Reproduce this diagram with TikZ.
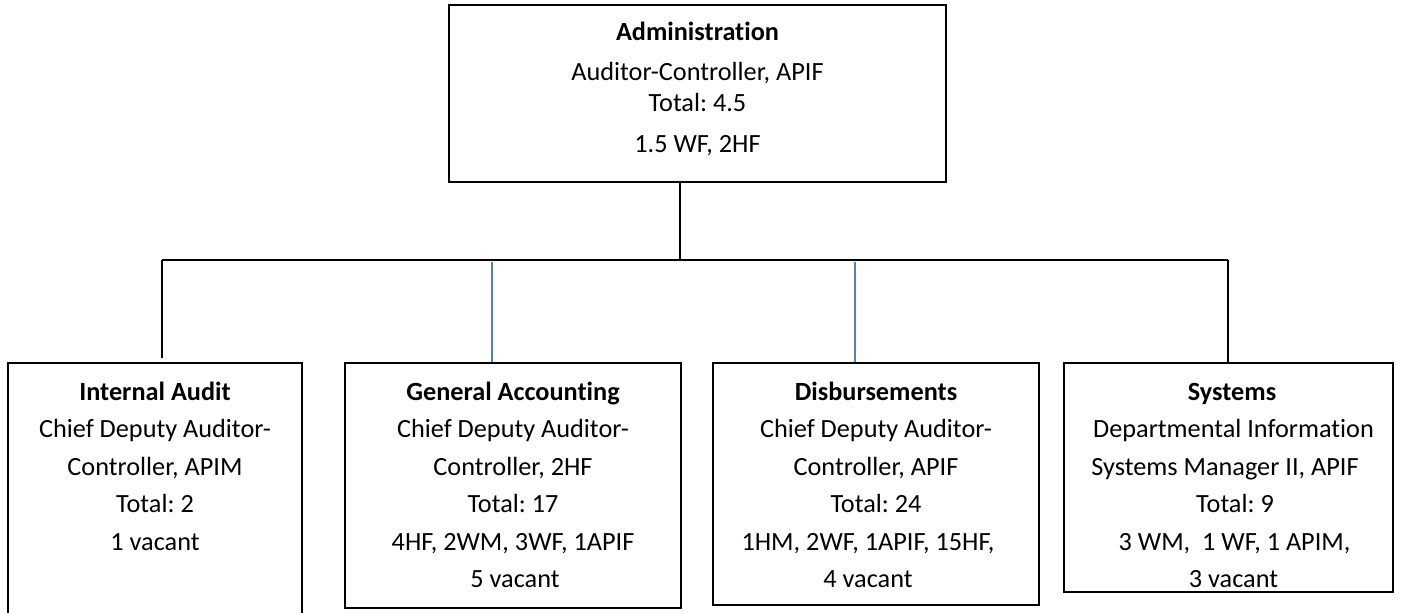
\documentclass[tikz,border=0pt]{standalone}
\usepackage{fontspec}
\setmainfont{Carlito}[Ligatures=NoCommon]
\frenchspacing
\definecolor{lnblue}{HTML}{4F81BD}
\begin{document}
\begin{tikzpicture}[x=0.75pt,y=-0.75pt,
  box/.style={draw=black,line width=1.5pt,minimum width=#1,inner sep=0pt},
  conn/.style={draw=black,line width=1.2pt},
  bconn/.style={draw=lnblue,line width=1pt},
  txt/.style={anchor=base,inner sep=0pt,font=\fontsize{19.7}{23}\selectfont},
  ttl/.style={txt,font=\fontsize{19.7}{23}\selectfont\bfseries}]
\useasboundingbox (0,0) rectangle (1408,612);
% boxes
\node[box=372.75pt,minimum height=132.75pt] (adm) at (697.5,93.5) {};
\node[box=220.5pt,minimum height=207.75pt] (ia) at (155,501.5) {};
\node[box=252pt,minimum height=183.75pt] (ga) at (513,485.5) {};
\node[box=244.5pt,minimum height=181.5pt] (db) at (876,484) {};
\node[box=246.75pt,minimum height=171.75pt] (sy) at (1228.5,477.5) {};
% admin text
\node[ttl] (a1) at (697.5,40) {Administration};
\node[txt] (a2) at (697.5,80) {Auditor-Controller, APIF};
\node[txt] (a3) at (697.5,111) {Total: 4.5};
\node[txt] (a4) at (697.5,152) {1.5 WF, 2HF};
% internal audit
\node[ttl] (i1) at (155,400) {Internal Audit};
\node[txt] (i2) at (155,437.5) {Chief Deputy Auditor-};
\node[txt] (i3) at (155,475) {Controller, APIM};
\node[txt] (i4) at (155,512.5) {Total: 2};
\node[txt] (i5) at (155,550) {1 vacant};
% general accounting
\node[ttl] (g1) at (513,400) {General Accounting};
\node[txt] (g2) at (513,437.5) {Chief Deputy Auditor-};
\node[txt] (g3) at (513,475) {Controller, 2HF};
\node[txt] (g4) at (513,512.5) {Total: 17};
\node[txt] (g5) at (513,550) {4HF, 2WM, 3WF, 1APIF};
\node[txt] (g6) at (515,587.5) {5 vacant};
% disbursements
\node[ttl] (d1) at (876,400) {Disbursements};
\node[txt] (d2) at (876,437.5) {Chief Deputy Auditor-};
\node[txt] (d3) at (876,475) {Controller, APIF};
\node[txt] (d4) at (876,512.5) {Total: 24};
\node[txt] (d5) at (868,550) {1HM, 2WF, 1APIF, 15HF,};
\node[txt] (d6) at (868,587.5) {4 vacant};
% systems
\node[ttl] (s1) at (1232,400) {Systems};
\node[txt] (s2) at (1233.5,437.5) {Departmental Information};
\node[txt] (s3) at (1225,475) {Systems Manager II, APIF};
\node[txt] (s4) at (1235,512.5) {Total: 9};
\node[txt] (s5) at (1234.5,550) {3 WM,\ \ 1 WF, 1 APIM,};
\node[txt] (s6) at (1233.5,587.5) {3 vacant};
% connectors
\coordinate (bj) at (680,260);
\coordinate (bl) at (162,260);
\coordinate (br) at (1228,260);
\coordinate (iaend) at (162,358);
\coordinate (gtop) at (492,262);
\coordinate (dtop) at (855,262);
\draw[conn] (adm.south -| bj) -- (bj);
\draw[conn] (bl) -- (br);
\draw[conn] (bl) -- (iaend);
\draw[conn] (br) -- (sy.north -| br);
\draw[bconn] (gtop) -- (ga.north -| gtop);
\draw[bconn] (dtop) -- (db.north -| dtop);
\end{tikzpicture}
\end{document}
